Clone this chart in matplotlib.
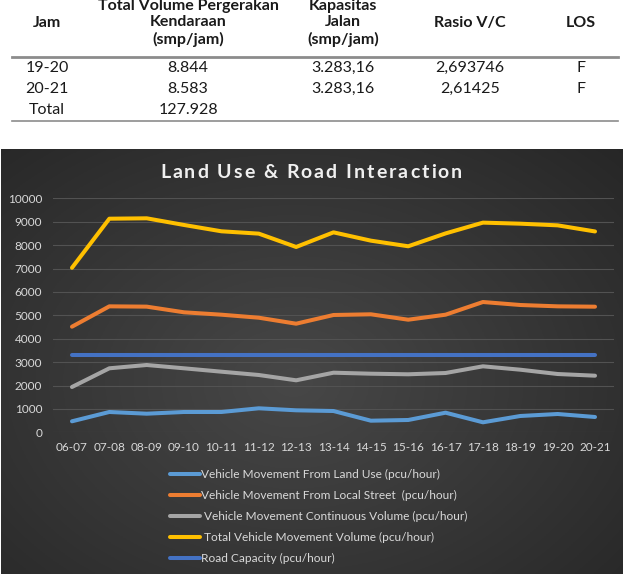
import numpy as np
import matplotlib.pyplot as plt
from matplotlib.lines import Line2D

W, H = 631, 579

# table values (top of the picture)
table_head = ['Jam', 'Total Volume Pergerakan\nKendaraan\n(smp/jam)', 'Kapasitas\nJalan\n(smp/jam)',
              'Rasio V/C', 'LOS']
table_rows = [['19-20', '8.844', '3.283,16', '2,693746', 'F'],
              ['20-21', '8.583', '3.283,16', '2,61425', 'F'],
              ['Total', '127.928', '', '', '']]

# chart values
jam = ['06-07', '07-08', '08-09', '09-10', '10-11', '11-12', '12-13', '13-14',
       '14-15', '15-16', '16-17', '17-18', '18-19', '19-20', '20-21']
land_use = [470, 868, 795, 868, 868, 1026, 940, 910, 496, 526, 838, 427, 697, 782, 654]
local_street = [4513, 5383, 5370, 5128, 5026, 4897, 4641, 5013, 5043, 4812, 5026, 5568, 5440, 5383, 5368]
continuous = [1936, 2735, 2876, 2735, 2590, 2449, 2222, 2547, 2504, 2479, 2534, 2820, 2675, 2491, 2419]
total = [7030, 9128, 9145, 8860, 8590, 8490, 7920, 8545, 8190, 7950, 8500, 8960, 8915, 8844, 8583]
capacity = [3283.16] * len(jam)

series = [
    ('Vehicle Movement From Land Use (pcu/hour)', land_use, '#5B9BD5'),
    ('Vehicle Movement From Local Street  (pcu/hour)', local_street, '#ED7D31'),
    (' Vehicle Movement Continuous Volume (pcu/hour)', continuous, '#A5A5A5'),
    (' Total Vehicle Movement Volume (pcu/hour)', total, '#FFC000'),
    ('Road Capacity (pcu/hour)', capacity, '#4472C4'),
]

plt.rcParams['font.family'] = ['Lato', 'DejaVu Sans']


def fx(x):
    return x / W


def fy(y):
    return 1 - y / H


fig = plt.figure(figsize=(W / 100, H / 100), dpi=100)
fig.patch.set_facecolor('white')

# --- table ---
col_x = [47, 188, 343, 470, 581]
for i, txt in enumerate(table_head):
    fig.text(fx(col_x[i]), fy(23), txt, ha='center', va='center', fontsize=11.5,
             fontweight='bold', color='#1a1a1a', linespacing=1.25, multialignment='center')
row_y = [68, 89, 110]
for r, row in enumerate(table_rows):
    for i, txt in enumerate(row):
        fig.text(fx(col_x[i]), fy(row_y[r]), txt, ha='center', va='center', fontsize=11.5,
                 color='#1a1a1a')
for yl, lw in [(57, 2.0), (121, 1.2)]:
    fig.add_artist(Line2D([fx(12), fx(618)], [fy(yl), fy(yl)], color='#8c8c8c', lw=lw))

# --- dark chart background with soft radial gradient ---
bg = fig.add_axes([fx(1), fy(574), (622) / W, (574 - 149) / H])
yy, xx = np.mgrid[0:1:200j, 0:1:300j]
d = np.sqrt(((xx - 0.47) / 0.75) ** 2 + ((yy - 0.55) / 0.8) ** 2)
shade = np.clip(0.28 - 0.13 * d, 0.14, 0.29)
bg.imshow(np.dstack([shade] * 3), aspect='auto', extent=[0, 1, 0, 1])
bg.set_axis_off()
bg.set_zorder(0)

# --- chart ---
ax = fig.add_axes([fx(53.3), fy(432.3), (613.7 - 53.3) / W, (432.3 - 198.3) / H])
ax.set_zorder(1)
ax.patch.set_alpha(0)
x = np.arange(len(jam))
handles = []
for name, vals, col in series:
    ln, = ax.plot(x, vals, color=col, lw=2.9, solid_capstyle='round', label=name)
    handles.append(ln)
ax.set_xlim(-0.5, len(jam) - 0.5)
ax.set_ylim(0, 10000)
ax.set_yticks(range(0, 10001, 1000))
ax.set_xticks(x)
ax.set_xticklabels(jam)
ax.grid(axis='y', color='#525252', lw=0.8)
ax.set_axisbelow(True)
for s in ax.spines.values():
    s.set_visible(False)
ax.tick_params(length=0, colors='#d9d9d9', labelsize=8.5)
ax.tick_params(axis='y', pad=8)
ax.tick_params(axis='x', pad=7)

# title with Excel-like letter spacing
title = 'Land Use & Road Interaction'
renderer = fig.canvas.get_renderer()
tkw = dict(fontsize=14, fontweight='bold', color='#f0f0f0', va='center', ha='left')
widths = []
for ch in title:
    if ch == ' ':
        widths.append(None)
        continue
    t = fig.text(0, 0, ch, **tkw)
    widths.append(t.get_window_extent(renderer).width)
    t.remove()
space_w = 4.5
nat = sum(w if w is not None else space_w for w in widths)
gap = (302 - nat) / (len(title) - 1)
cx = 160
for ch, w in zip(title, widths):
    if w is None:
        cx += space_w + gap
        continue
    fig.text(fx(cx), fy(172), ch, **tkw)
    cx += w + gap

leg = fig.legend(handles=handles, loc='upper left', bbox_to_anchor=(fx(170), fy(469)),
                 frameon=False, fontsize=8.6, labelcolor='#d9d9d9', handlelength=2.5,
                 handletextpad=0.1, labelspacing=0.84, borderpad=0, borderaxespad=0)
for h in leg.legend_handles:
    h.set_linewidth(2.9)

fig.savefig('out.png', dpi=100, facecolor='white')
